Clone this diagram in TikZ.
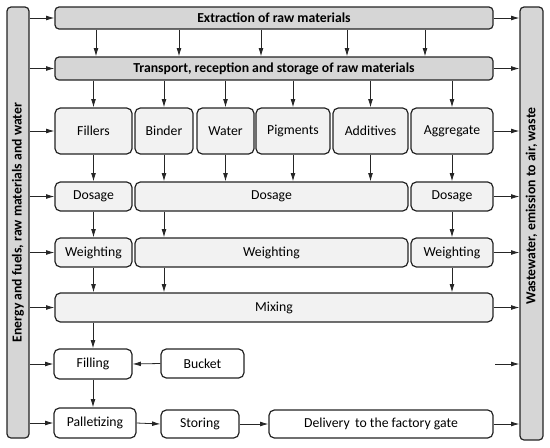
\documentclass[tikz,border=0pt]{standalone}
\usepackage{fontspec}
\setmainfont{Carlito}
\usepackage{graphicx}
\usetikzlibrary{arrows.meta,positioning,calc}
\definecolor{barfill}{RGB}{214,214,214}
\definecolor{matfill}{RGB}{242,242,242}
\definecolor{edge}{RGB}{35,35,35}
\tikzset{
  >={Latex[length=6.2pt,width=3.6pt]},
  font=\fontsize{10.3}{12}\selectfont,
  sz/.style 2 args={minimum width=#1*0.75pt, minimum height=#2*0.75pt},
  block/.style={
    rounded corners=4pt, draw=edge, line width=0.9pt, fill=white,
    align=center, inner sep=0pt},
  sidebar/.style={block, fill=barfill, rounded corners=3pt,
    font=\fontsize{10.3}{12}\selectfont\bfseries},
  stageblock/.style={block, fill=barfill, rounded corners=3pt,
    font=\fontsize{10.3}{12}\selectfont\bfseries},
  matblock/.style={block, fill=matfill},
  packblock/.style={block, fill=white},
  % arrows
  flow/.style={->, line width=0.6pt, black!85},
}
\begin{document}
\begin{tikzpicture}[x=0.75pt,y=-0.75pt]
\useasboundingbox (0,0) rectangle (550,447);

% ---------- side bars ----------
\node[sidebar, sz={22}{431}] (lbar) at (18,222.5)
  {\rotatebox{90}{Energy and fuels, raw materials and water}};
\node[sidebar, sz={23}{433}] (rbar) at (531.5,223.5)
  {\rotatebox{90}{\hspace{26pt}Wastewater, emission to air, waste}};

% ---------- raw material stages ----------
\node[stageblock, sz={438}{22}] (extr)   at (274,18)   {Extraction of raw materials};
\node[stageblock, sz={438}{23}] (transp) at (274,68.5) {Transport, reception and storage of raw materials};

% ---------- materials ----------
\node[matblock, sz={77}{46}] (fillers) at (93.5,131)  {Fillers};
\node[matblock, sz={58}{46}] (binder)  at (164,131)   {Binder};
\node[matblock, sz={57}{46}] (water)   at (225.5,131) {Water};
\node[matblock, sz={74}{46}] (pigm)    at (293,131)   {Pigments};
\node[matblock, sz={75}{46}] (addit)   at (370.5,131) {Additives};
\node[matblock, sz={82}{46}] (aggr)    at (452,131)   {Aggregate};

% ---------- dosage / weighting / mixing ----------
\node[matblock, sz={77}{29}]  (dos1) at (93.5,196.5)  {Dosage};
\node[matblock, sz={273}{29}] (dos2) at (271.5,196.5) {Dosage};
\node[matblock, sz={82}{29}]  (dos3) at (452,196.5)   {Dosage};
\node[matblock, sz={77}{29}]  (wgt1) at (93.5,252.5)  {Weighting};
\node[matblock, sz={273}{29}] (wgt2) at (271.5,252.5) {Weighting};
\node[matblock, sz={82}{29}]  (wgt3) at (452,252.5)   {Weighting};
\node[matblock, sz={438}{29}] (mix)  at (274,307.5)   {Mixing};

% ---------- packing and delivery ----------
\node[packblock, sz={78}{30}]  (filling) at (93,364)      {Filling};
\node[packblock, sz={83}{29}]  (bucket)  at (202.5,363.5) {Bucket};
\node[packblock, sz={82}{30}]  (pall)    at (95,423)      {Palletizing};
\node[packblock, sz={78}{28}]  (stor)    at (200,424)     {Storing};
\node[packblock, sz={224}{28}] (deliv)   at (381,424)     {Delivery \,to the factory gate};

% ---------- inputs (left) and outputs (right) ----------
\foreach \n in {extr,transp,fillers,dos1,wgt1,mix,filling,pall}{
  \draw[flow] (lbar.east |- \n.west) -- (\n.west);}
\foreach \n in {extr,transp,aggr,dos3,wgt3,mix,deliv}{
  \draw[flow] (\n.east) -- (rbar.west |- \n.east);}
\coordinate (waste) at (495,364);
\draw[flow] (waste) -- (rbar.west |- waste);

% ---------- process flow ----------
\foreach \x in {96,179,261,347,425}{
  \draw[flow] (extr.south -| \x,0) -- (transp.north -| \x,0);}
\foreach \n in {fillers,binder,water,pigm,addit,aggr}{
  \draw[flow] (transp.south -| \n) -- (\n.north);}
\foreach \n/\m in {fillers/dos1,binder/dos2,water/dos2,pigm/dos2,addit/dos2,aggr/dos3}{
  \draw[flow] (\n.south) -- (\m.north -| \n);}
\foreach \n/\m/\k in {dos1/wgt1/fillers,dos2/wgt2/binder,dos3/wgt3/aggr}{
  \draw[flow] (\n.south -| \k) -- (\m.north -| \k);}
\foreach \n/\k in {wgt1/fillers,wgt2/binder,wgt3/aggr}{
  \draw[flow] (\n.south -| \k) -- (mix.north -| \k);}
\draw[flow] (mix.south -| filling) -- (filling.north);
\draw[flow] (bucket.west) -- (filling.east);
\draw[flow] (filling.south) -- (pall.north -| filling);
\draw[flow] (pall.east) -- (stor.west);
\draw[flow] (stor.east) -- (deliv.west);

\end{tikzpicture}
\end{document}
